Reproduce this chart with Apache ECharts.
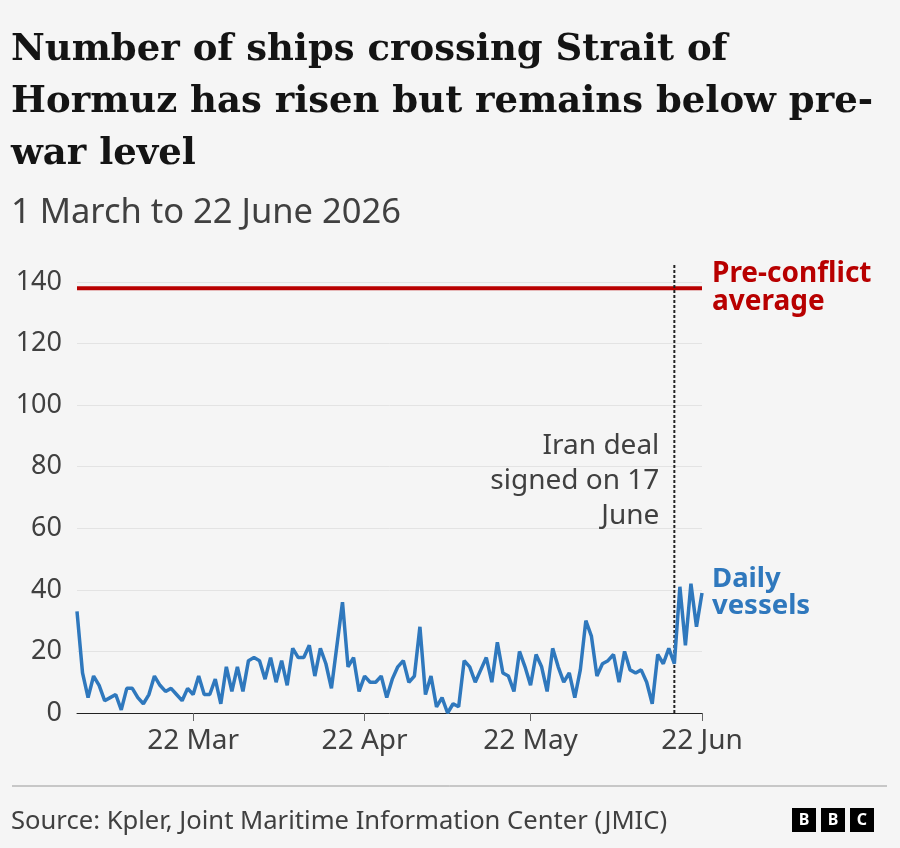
<!DOCTYPE html>
<html><head><meta charset="utf-8">
<script src="https://cdn.jsdelivr.net/npm/echarts@6/dist/echarts.min.js"></script>
<style>html,body{margin:0;padding:0;background:#f5f5f5}#c{width:900px;height:848px}</style>
</head><body><div id="c"></div>
<script>
// ---- data ----
const monthNames = ['Mar', 'Apr', 'May', 'Jun'];
const monthDays = [31, 30, 31, 22]; // 1 March to 22 June 2026
const dailyVessels = [
  33, 13, 5, 12, 9, 4, 5, 6, 1, 8, 8, 5, 3, 6, 12, 9, 7, 8, 6, 4,
  8, 6, 12, 6, 6, 11, 3, 15, 7, 15, 7, 17, 18, 17, 11, 18, 10, 17, 9, 21,
  18, 18, 22, 12, 21, 16, 8, 22, 36, 15, 18, 7, 12, 10, 10, 12, 5, 11, 15, 17,
  10, 12, 28, 6, 12, 2, 5, 0, 3, 2, 17, 15, 10, 14, 18, 10, 23, 13, 12, 7,
  20, 15, 9, 19, 15, 7, 21, 15, 10, 13, 5, 14, 30, 25, 12, 16, 17, 19, 10, 20,
  14, 13, 14, 10, 3, 19, 16, 21, 16, 41, 22, 42, 28, 39
];
const preConflictAverage = 138;
const dealDay = '17 Jun';
const tickLabels = ['22 Mar', '22 Apr', '22 May', '22 Jun'];
const yMin = 0, yMax = 140, yInterval = 20;

const categories = [];
monthNames.forEach((m, k) => { for (let d = 1; d <= monthDays[k]; d++) categories.push(d + ' ' + m); });

const blue = '#2f78bd', red = '#b80000', ink = '#404040';
const sans = '"Noto Sans", "Open Sans", sans-serif';

const chart = echarts.init(document.getElementById('c'), null, { renderer: 'canvas' });
const showTick = (i, v) => tickLabels.indexOf(v) >= 0;

chart.setOption({
  animation: false,
  backgroundColor: '#f5f5f5',
  title: [
    { text: 'Number of ships crossing Strait of\nHormuz has risen but remains below pre-\nwar level',
      left: 11, top: 24, padding: 0,
      textStyle: { fontFamily: '"DejaVu Serif", serif', fontWeight: 'bold', fontSize: 37, lineHeight: 52, color: '#141414' } },
    { text: '1 March to 22 June 2026', left: 11, top: 193, padding: 0,
      textStyle: { fontFamily: sans, fontWeight: 'normal', fontSize: 34.5, lineHeight: 40, color: ink } },
    { text: 'Source: Kpler, Joint Maritime Information Center (JMIC)', left: 11, top: 806, padding: 0,
      textStyle: { fontFamily: sans, fontWeight: 'normal', fontSize: 25.6, lineHeight: 32, color: ink } }
  ],
  grid: { left: 77, right: 198, top: 282, bottom: 135, containLabel: false },
  xAxis: {
    type: 'category', data: categories, boundaryGap: false,
    axisLine: { show: true, lineStyle: { color: '#222', width: 1 } },
    axisTick: { show: true, interval: showTick, length: 8, lineStyle: { color: '#666', width: 1 } },
    axisLabel: { interval: showTick, fontFamily: sans, fontSize: 28, color: ink, margin: 14 },
    splitLine: { show: false }
  },
  yAxis: {
    type: 'value', min: yMin, max: yMax, interval: yInterval,
    axisLine: { show: false }, axisTick: { show: false },
    axisLabel: { fontFamily: sans, fontSize: 27, color: ink, margin: 15 },
    splitLine: { lineStyle: { color: '#e3e3e3', width: 1 } }
  },
  series: [
    { name: 'Pre-conflict average', type: 'line', symbol: 'none',
      data: [[categories[0], preConflictAverage], [categories[categories.length - 1], preConflictAverage]],
      lineStyle: { color: red, width: 4 },
      endLabel: { show: true, formatter: 'Pre-conflict\naverage', color: red, fontFamily: sans, fontWeight: 'bold', fontSize: 28, lineHeight: 28, distance: 10 },
      z: 3 },
    { name: 'Iran deal', type: 'line', symbol: 'circle', symbolSize: 0, clip: false,
      data: [[dealDay, 0], { value: [dealDay, 75.5], label: { show: true } }, [dealDay, 145.5]],
      lineStyle: { color: '#222', width: 2, type: [3, 2] },
      itemStyle: { color: 'rgba(0,0,0,0)' },
      label: { show: false, position: 'left', distance: 15, formatter: 'Iran deal\nsigned on 17\nJune', fontFamily: sans, fontSize: 28, lineHeight: 35, color: ink },
      z: 4 },
    { name: 'Daily vessels', type: 'line', symbol: 'none', data: dailyVessels,
      lineStyle: { color: blue, width: 3.5 },
      endLabel: { show: true, formatter: 'Daily\nvessels', color: blue, fontFamily: sans, fontWeight: 'bold', fontSize: 27.5, lineHeight: 27, distance: 10 },
      z: 5 }
  ],
  graphic: [
    { type: 'line', shape: { x1: 12, y1: 786, x2: 887, y2: 786 }, style: { stroke: '#999', lineWidth: 1 } },
    ...['B', 'B', 'C'].map((ch, k) => ({
      type: 'group', left: 792 + k * 29, top: 808,
      children: [
        { type: 'rect', shape: { x: 0, y: 0, width: 24, height: 24 }, style: { fill: '#000' } },
        { type: 'text', style: { text: ch, x: 12, y: 12, align: 'center', verticalAlign: 'middle', fill: '#fff', font: 'bold 16px ' + sans } }
      ]
    }))
  ]
});
</script></body></html>
